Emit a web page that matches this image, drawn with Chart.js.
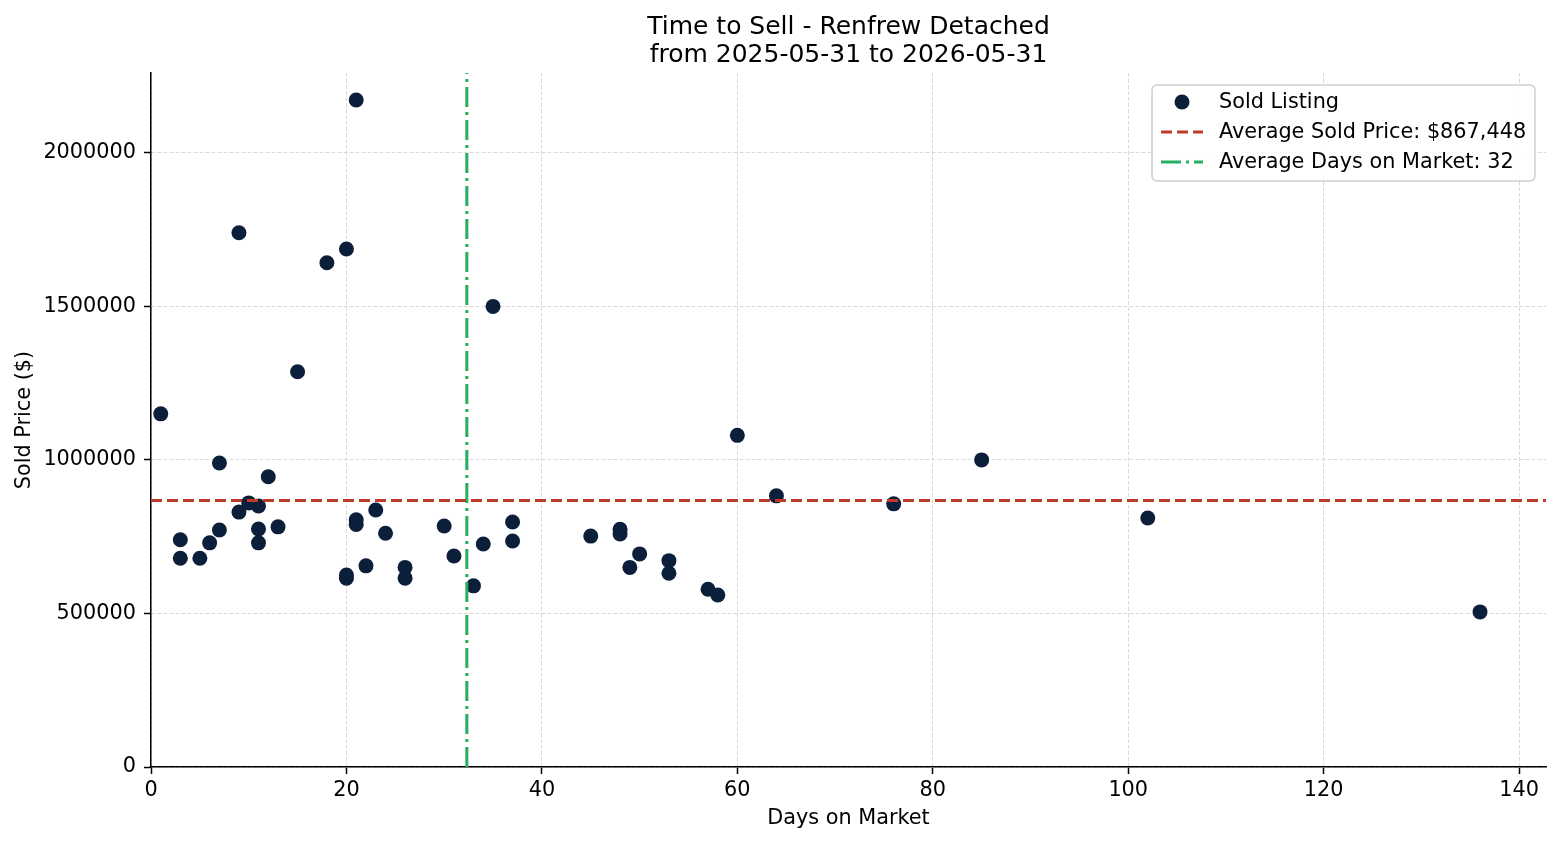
<!DOCTYPE html>
<html>
<head>
<meta charset="utf-8">
<title>Time to Sell - Renfrew Detached</title>
<script src="https://cdn.jsdelivr.net/npm/chart.js@4.4.1/dist/chart.umd.min.js"></script>
<style>
  html, body { margin: 0; padding: 0; background: #fff; }
  canvas { display: block; }
</style>
</head>
<body>
<canvas id="myChart" width="1560" height="845"></canvas>
<script>
"use strict";

//////////////////////////////
// Data
const daysOnMarket = [
  1, 3, 3, 5, 6, 7, 7, 9, 9, 10,
  11, 11, 11, 12, 13, 15, 18, 20, 20, 20,
  21, 21, 21, 22, 23, 24, 26, 26, 30, 31,
  33, 34, 35, 37, 37, 45, 48, 48, 49, 50,
  53, 53, 57, 58, 60, 64, 76, 85, 102, 136,
];
const soldPrices = [
  1150000, 740000, 680000, 680000, 730000, 772000, 990000, 1740000, 830000, 860000,
  850000, 775000, 730000, 945000, 782000, 1287000, 1642000, 1687000, 625000, 615000,
  2172000, 805000, 790000, 655000, 837000, 761000, 650000, 615000, 785000, 687000,
  590000, 726000, 1500000, 798000, 736000, 752000, 774000, 759000, 650000, 694000,
  672000, 631000, 579000, 560000, 1080000, 883000, 857000, 1000000, 811000, 505000,
];
const avgSoldPrice = 867448;
const xTicks = [0, 20, 40, 60, 80, 100, 120, 140];
const yTicks = [0, 500000, 1000000, 1500000, 2000000];
const xMax = 142.75;
const yMax = 2260000;
const titleLines = ["Time to Sell - Renfrew Detached", "from 2025-05-31 to 2026-05-31"];

//////////////////////////////
// Derived
const avgDays = daysOnMarket.reduce((a, b) => a + b, 0) / daysOnMarket.length;
const points = daysOnMarket.map((d, i) => ({ x: d, y: soldPrices[i] }));

const FONT = "'DejaVu Sans', 'Liberation Sans', sans-serif";
const navy = "#0b1f3a";
const red = "#c0392b";
const green = "#27ae60";

Chart.defaults.font.family = FONT;
Chart.defaults.font.size = 20.8;
Chart.defaults.color = "#000";

// Title centered above the plot area (like matplotlib)
const titlePlugin = {
  id: "axTitle",
  afterDraw(chart) {
    const { ctx, chartArea } = chart;
    const cx = (chartArea.left + chartArea.right) / 2;
    ctx.save();
    ctx.font = `25px ${FONT}`;
    ctx.fillStyle = "#000";
    ctx.textAlign = "center";
    ctx.textBaseline = "middle";
    ctx.fillText(titleLines[0], cx, 27);
    ctx.fillText(titleLines[1], cx, 55);
    ctx.restore();
  },
};

// Legend box in the upper right of the plot area
const legendPlugin = {
  id: "boxLegend",
  afterDraw(chart) {
    const { ctx, chartArea } = chart;
    const w = 383;
    const h = 96;
    const x = chartArea.right - 11 - w;
    const y = chartArea.top + 12;
    ctx.save();
    ctx.beginPath();
    ctx.roundRect(x, y, w, h, 5);
    ctx.fillStyle = "rgba(255,255,255,0.85)";
    ctx.fill();
    ctx.strokeStyle = "#d0d0d0";
    ctx.lineWidth = 1.5;
    ctx.stroke();

    const rows = [y + 17, y + 47, y + 77];
    const sx1 = x + 9;
    const sx2 = x + 51;
    const tx = x + 67;

    // marker
    ctx.beginPath();
    ctx.arc((sx1 + sx2) / 2, rows[0], 7.5, 0, Math.PI * 2);
    ctx.fillStyle = navy;
    ctx.fill();

    // dashed red
    ctx.lineWidth = 3;
    ctx.strokeStyle = red;
    ctx.setLineDash([11, 5]);
    ctx.beginPath();
    ctx.moveTo(sx1, rows[1]);
    ctx.lineTo(sx2, rows[1]);
    ctx.stroke();

    // dash-dot green
    ctx.strokeStyle = green;
    ctx.setLineDash([20, 5, 3, 5]);
    ctx.beginPath();
    ctx.moveTo(sx1, rows[2]);
    ctx.lineTo(sx2, rows[2]);
    ctx.stroke();
    ctx.setLineDash([]);

    ctx.font = `20.8px ${FONT}`;
    ctx.fillStyle = "#000";
    ctx.textAlign = "left";
    ctx.textBaseline = "middle";
    ctx.fillText("Sold Listing", tx, rows[0] + 1);
    ctx.fillText(`Average Sold Price: $${avgSoldPrice.toLocaleString("en-US")}`, tx, rows[1] + 1);
    ctx.fillText(`Average Days on Market: ${Math.round(avgDays)}`, tx, rows[2] + 1);
    ctx.restore();
  },
};

const canvas = document.getElementById("myChart");
const ctx = canvas.getContext("2d");

const chart = new Chart(ctx, {
  type: "scatter",
  data: {
    datasets: [
      {
        label: "Sold Listing",
        data: points,
        backgroundColor: navy,
        borderWidth: 0,
        pointRadius: 7.5,
        pointHoverRadius: 7.5,
        order: 2,
      },
      {
        label: "Average Sold Price",
        data: [
          { x: 0, y: avgSoldPrice },
          { x: xMax, y: avgSoldPrice },
        ],
        showLine: true,
        borderColor: red,
        borderWidth: 3,
        borderDash: [11, 5],
        pointRadius: 0,
        order: 1,
      },
      {
        label: "Average Days on Market",
        data: [
          { x: avgDays, y: 0 },
          { x: avgDays, y: yMax },
        ],
        showLine: true,
        borderColor: green,
        borderWidth: 3,
        borderDash: [20, 5, 3, 5],
        pointRadius: 0,
        order: 1,
      },
    ],
  },
  options: {
    responsive: false,
    animation: false,
    devicePixelRatio: 1,
    layout: { padding: { top: 73, right: 14, left: 0, bottom: 0 } },
    plugins: {
      legend: { display: false },
      title: { display: false },
      tooltip: { enabled: false },
    },
    scales: {
      x: {
        type: "linear",
        min: 0,
        max: xMax,
        afterBuildTicks: (scale) => {
          scale.ticks = xTicks.map((v) => ({ value: v }));
        },
        afterFit: (scale) => {
          scale.height = 78;
        },
        ticks: { padding: 4, maxRotation: 0, callback: (v) => String(v) },
        grid: {
          color: "#dadada",
          lineWidth: 1,
          tickLength: 7,
          tickColor: "#000",
          tickWidth: 1.5,
        },
        border: { color: "#000", width: 1.5, dash: [4, 2] },
        title: {
          display: true,
          text: "Days on Market",
          padding: { top: 14, bottom: 14 },
        },
      },
      y: {
        type: "linear",
        min: 0,
        max: yMax,
        afterBuildTicks: (scale) => {
          scale.ticks = yTicks.map((v) => ({ value: v }));
        },
        afterFit: (scale) => {
          scale.width = 151;
        },
        ticks: { padding: 8, callback: (v) => String(v) },
        grid: {
          color: "#dadada",
          lineWidth: 1,
          tickLength: 7,
          tickColor: "#000",
          tickWidth: 1.5,
        },
        border: { color: "#000", width: 1.5, dash: [4, 2] },
        title: {
          display: true,
          text: "Sold Price ($)",
          padding: { top: 12, bottom: 12 },
        },
      },
    },
  },
  plugins: [titlePlugin, legendPlugin],
});
</script>
</body>
</html>
